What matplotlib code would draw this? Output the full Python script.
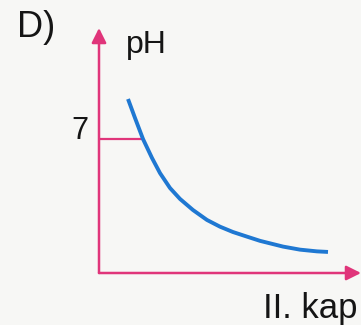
"""Titration sketch: pH of the solution against added volume of the second container."""

import matplotlib

matplotlib.use("Agg")
import matplotlib.pyplot as plt

# added volume (arbitrary units) and the resulting pH
volume = [1.45, 1.8, 2.2, 2.65, 3.05, 3.55, 4.05, 4.7, 5.4, 6.05, 6.7,
          7.4, 8.05, 9.2, 10.05, 10.9, 11.45]
ph = [9.09, 8.10, 7.0, 6.01, 5.22, 4.44, 3.87, 3.29, 2.77, 2.42, 2.14,
      1.90, 1.68, 1.38, 1.22, 1.13, 1.10]

neutral_ph = 7.0
neutral_volume = 2.2
x_max, y_max = 13.1, 12.8

panel_label = "D)"
y_label = "pH"
x_label = "II. kap"

AXIS_PINK = "#e0357a"
CURVE_BLUE = "#1f78d2"
INK = "#151515"

plt.rcParams["font.family"] = ["Liberation Sans", "DejaVu Sans"]

W, H = 361, 325
fig = plt.figure(figsize=(W / 100, H / 100), dpi=100, facecolor="#f7f7f5")
ax = fig.add_axes([99 / W, 52 / H, (W - 99) / W, (273 - 28) / H])
ax.set_xlim(0, x_max)
ax.set_ylim(0, y_max)
ax.axis("off")

# axes with arrowheads
arrow = dict(arrowstyle="-|>", color=AXIS_PINK, lw=1.8, mutation_scale=22,
             shrinkA=0, shrinkB=0)
ax.annotate("", xy=(0, y_max), xytext=(0, 0), arrowprops=arrow, annotation_clip=False)
ax.annotate("", xy=(x_max, 0), xytext=(0, 0), arrowprops=arrow, annotation_clip=False)

# marker for pH 7
ax.plot([0, neutral_volume], [neutral_ph, neutral_ph], color=AXIS_PINK, lw=1.6)
ax.text(-0.55, neutral_ph, "7", ha="right", va="baseline", fontsize=22, color=INK)

ax.plot(volume, ph, color=CURVE_BLUE, lw=2.8, solid_joinstyle="round",
        solid_capstyle="butt")

fig.text(17 / W, 1 - 37 / H, panel_label, ha="left", va="baseline", fontsize=26, color=INK)
fig.text(126 / W, 1 - 53 / H, y_label, ha="left", va="baseline", fontsize=23, color=INK)
fig.text(263 / W, 1 - 318 / H, x_label, ha="left", va="baseline", fontsize=25, color=INK)

fig.savefig("out.png", dpi=100, facecolor=fig.get_facecolor())
